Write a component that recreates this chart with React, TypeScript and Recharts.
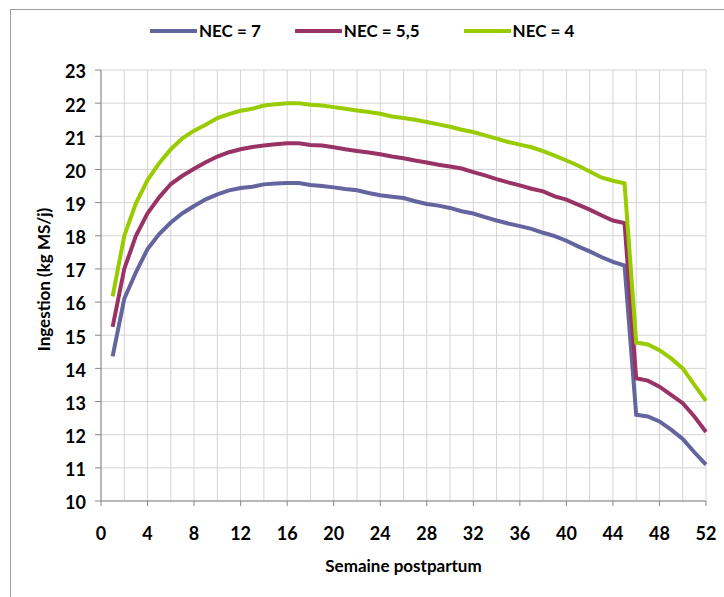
import React from 'react';
import { LineChart, Line, XAxis, YAxis, CartesianGrid } from 'recharts';

// semaine postpartum
const weeks = [
  1, 2, 3, 4, 5, 6, 7, 8, 9, 10, 11, 12, 13, 14, 15, 16, 17, 18, 19, 20, 21, 22, 23, 24, 25, 26,
  27, 28, 29, 30, 31, 32, 33, 34, 35, 36, 37, 38, 39, 40, 41, 42, 43, 44, 45, 46, 47, 48, 49, 50, 51, 52,
];

// ingestion (kg MS/j)
const nec7 = [
  14.36, 16.1, 16.9, 17.6, 18.05, 18.4, 18.68, 18.9, 19.1, 19.25, 19.37, 19.44, 19.48, 19.55, 19.58, 19.59,
  19.59, 19.53, 19.5, 19.46, 19.41, 19.37, 19.29, 19.22, 19.18, 19.14, 19.04, 18.96, 18.91, 18.84, 18.74,
  18.67, 18.56, 18.46, 18.37, 18.29, 18.21, 18.09, 17.99, 17.85, 17.68, 17.53, 17.36, 17.21, 17.1, 12.6,
  12.55, 12.4, 12.15, 11.87, 11.47, 11.1,
];
const nec55 = [
  15.25, 17.0, 18.0, 18.68, 19.16, 19.56, 19.81, 20.02, 20.22, 20.39, 20.52, 20.61, 20.68, 20.72, 20.76,
  20.79, 20.79, 20.74, 20.72, 20.67, 20.61, 20.56, 20.51, 20.46, 20.39, 20.34, 20.27, 20.21, 20.14, 20.09,
  20.03, 19.92, 19.82, 19.71, 19.61, 19.52, 19.42, 19.34, 19.19, 19.09, 18.94, 18.79, 18.62, 18.46, 18.38,
  13.7, 13.63, 13.45, 13.2, 12.95, 12.55, 12.08,
];
const nec4 = [
  16.17, 18.0, 18.98, 19.68, 20.19, 20.61, 20.94, 21.17, 21.35, 21.55, 21.67, 21.77, 21.83, 21.93, 21.97,
  22.0, 22.0, 21.95, 21.93, 21.88, 21.83, 21.78, 21.73, 21.68, 21.6, 21.55, 21.5, 21.43, 21.36, 21.29,
  21.2, 21.13, 21.03, 20.93, 20.83, 20.75, 20.67, 20.55, 20.42, 20.27, 20.12, 19.94, 19.76, 19.66, 19.58,
  14.78, 14.72, 14.55, 14.3, 14.0, 13.5, 13.02,
];

const xTicks = [0, 2, 4, 6, 8, 10, 12, 14, 16, 18, 20, 22, 24, 26, 28, 30, 32, 34, 36, 38, 40, 42, 44, 46, 48, 50, 52];
const yTicks = [10, 11, 12, 13, 14, 15, 16, 17, 18, 19, 20, 21, 22, 23];

const SERIES = [
  { key: 'nec7', name: 'NEC = 7', color: '#64649E', values: nec7 },
  { key: 'nec55', name: 'NEC = 5,5', color: '#993366', values: nec55 },
  { key: 'nec4', name: 'NEC = 4', color: '#99CC00', values: nec4 },
];

const data = weeks.map((week, i) => {
  const row: Record<string, number> = { week };
  SERIES.forEach(s => {
    row[s.key] = s.values[i];
  });
  return row;
});

const FONT = 'Lato, "Open Sans", sans-serif';
const AXIS_COLOR = '#868686';

// labels only every 4 weeks, the grid keeps every 2
const WeekTick = (props: any) => {
  const { x, y, payload } = props;
  if (payload.value % 4 !== 0) return <g />;
  return (
    <g>
      <line x1={x} x2={x} y1={y - 20} y2={y - 15} stroke={AXIS_COLOR} />
      <text x={x} y={y} dy={19} textAnchor="middle" fill="#000" fontSize={18} fontWeight="bold" fontFamily={FONT}>
        {payload.value}
      </text>
    </g>
  );
};

const App: React.FC = () => {
  return (
    <div style={{ position: 'absolute', left: 0, top: 0, width: 724, height: 597, background: '#fff', overflow: 'hidden', fontFamily: FONT }}>
      {/* chart frame */}
      <div style={{ position: 'absolute', left: 10, top: 9, width: 740, height: 620, border: '1px solid #9c9c9c' }} />

      {/* legend */}
      <div style={{ position: 'absolute', left: 150, top: 20, display: 'flex', alignItems: 'center' }}>
        {SERIES.map((s, i) => (
          <div key={s.key} style={{ display: 'flex', alignItems: 'center', marginLeft: i === 0 ? 0 : i === 1 ? 34 : 44 }}>
            <svg width={47} height={8}>
              <line x1={1} x2={46} y1={4} y2={4} stroke={s.color} strokeWidth={4} strokeLinecap="round" />
            </svg>
            <span style={{ fontSize: 17, fontWeight: 'bold', color: '#000', marginLeft: 2 }}>{s.name}</span>
          </div>
        ))}
      </div>

      <div style={{ position: 'absolute', left: 0, top: 0 }}>
        <LineChart width={724} height={597} data={data} margin={{ top: 70, right: 18, bottom: 56, left: 41 }} style={{ fontFamily: FONT }}>
          <CartesianGrid stroke="#d4d4d4" strokeWidth={1} />
          <XAxis
            dataKey="week"
            type="number"
            domain={[0, 52]}
            ticks={xTicks}
            interval={0}
            height={40}
            tickLine={false}
            tickSize={6}
            tickMargin={14}
            axisLine={{ stroke: AXIS_COLOR }}
            tick={<WeekTick />}
            label={{ value: 'Semaine postpartum', position: 'bottom', offset: 19, fill: '#000', fontSize: 17, fontWeight: 'bold' }}
          />
          <YAxis
            type="number"
            domain={[10, 23]}
            ticks={yTicks}
            interval={0}
            width={60}
            tickSize={6}
            tickMargin={9}
            tickLine={{ stroke: AXIS_COLOR }}
            axisLine={{ stroke: AXIS_COLOR }}
            tick={{ fill: '#000', fontSize: 18, fontWeight: 'bold', dy: 2 }}
            label={{ value: 'Ingestion (kg MS/j)', angle: -90, position: 'insideLeft', offset: 3, dy: -6, fill: '#000', fontSize: 17, fontWeight: 'bold', style: { textAnchor: 'middle' } }}
          />
          {SERIES.map(s => (
            <Line
              key={s.key}
              type="linear"
              dataKey={s.key}
              name={s.name}
              stroke={s.color}
              strokeWidth={4}
              dot={false}
              activeDot={false}
              isAnimationActive={false}
            />
          ))}
        </LineChart>
      </div>
    </div>
  );
};

export default App;
